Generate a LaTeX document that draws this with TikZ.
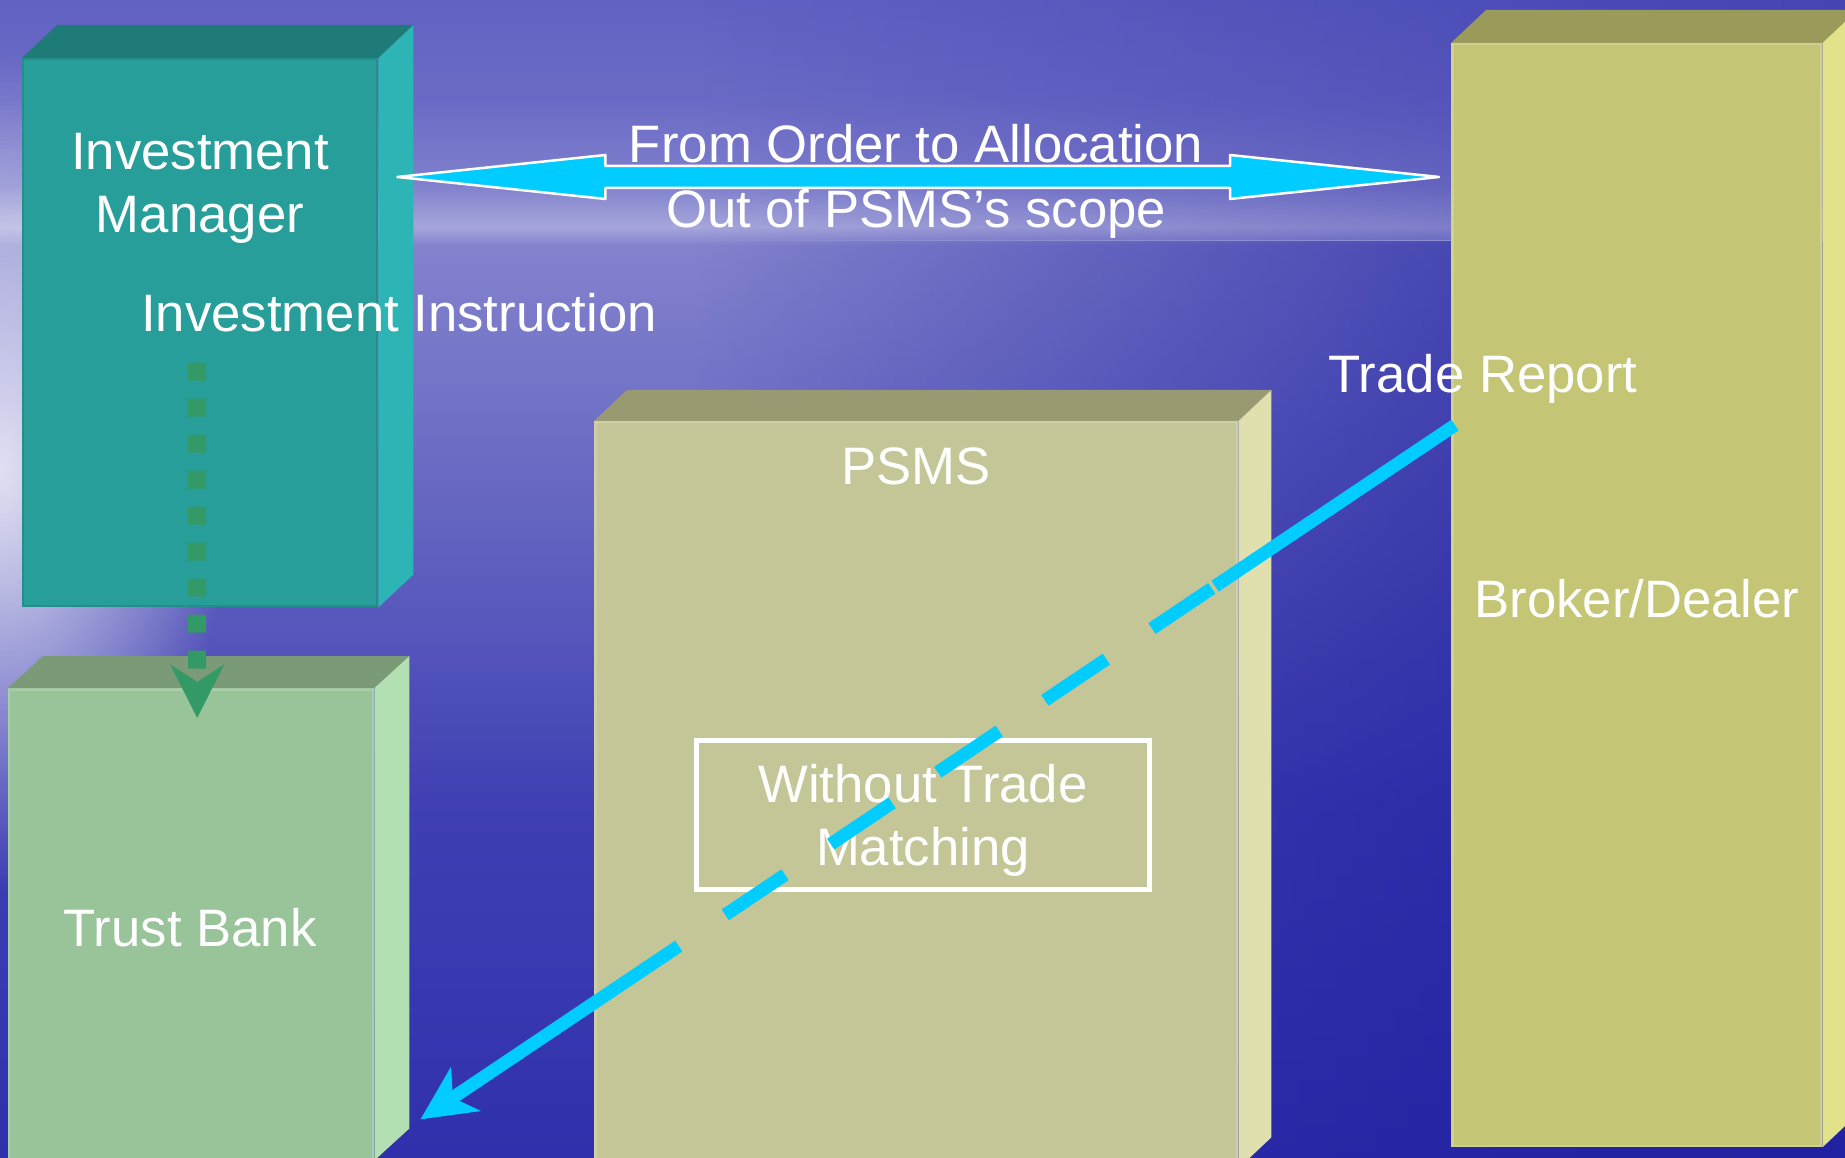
\documentclass[tikz,border=0pt]{standalone}
\usepackage{fontspec}
\setmainfont{Liberation Sans}
\usetikzlibrary{arrows.meta,calc,fadings}

\definecolor{sky0}{HTML}{6262C3}
\definecolor{sky1}{HTML}{6A6AC6}
\definecolor{sky2}{HTML}{8080CD}
\definecolor{horizon}{HTML}{A6A6DB}
\definecolor{sea0}{HTML}{8282CD}
\definecolor{sea1}{HTML}{7272C7}
\definecolor{sea2}{HTML}{5A5ABD}
\definecolor{sea3}{HTML}{4040B4}
\definecolor{sea4}{HTML}{3030AC}
\definecolor{deepblue}{HTML}{2020A0}
\definecolor{imfront}{HTML}{289E9B}
\definecolor{imtop}{HTML}{1F7B78}
\definecolor{imside}{HTML}{2DB4B4}
\definecolor{tbfront}{HTML}{99C49A}
\definecolor{tbtop}{HTML}{7A9A78}
\definecolor{tbside}{HTML}{B2E0B2}
\definecolor{psfront}{HTML}{C5C698}
\definecolor{pstop}{HTML}{999972}
\definecolor{psside}{HTML}{E0E0AE}
\definecolor{bdfront}{HTML}{C4C575}
\definecolor{bdtop}{HTML}{9A9A5A}
\definecolor{bdside}{HTML}{E1E28A}
\definecolor{flowblue}{HTML}{00CCFF}
\definecolor{instrgreen}{HTML}{339966}

\pgfdeclareverticalshading{skysea}{100bp}{color(0bp)=(sea4); color(25bp)=(sea4);
  color(40.5bp)=(sea3); color(49.1bp)=(sea2); color(57.7bp)=(sea1); color(64.4bp)=(sea0);
  color(65.2bp)=(horizon); color(67bp)=(sky2); color(70.7bp)=(sky1); color(75bp)=(sky0);
  color(100bp)=(sky0)}
\tikzfading[name=dark right, left color=transparent!100, right color=transparent!0]
\tikzfading[name=glow blob, inner color=transparent!0, outer color=transparent!100]

\begin{document}
\begin{tikzpicture}[x=0.02cm,y=-0.02cm,
    box/.style={inner sep=0pt,anchor=north west,line width=0.05cm},
    lbl/.style={text=white,inner sep=0pt,font=\fontsize{30}{35.9}\selectfont},
    scopearrow/.style={fill=flowblue,draw=white,line width=0.05cm,line join=round},
    instrarrow/.style={instrgreen,line width=0.36cm,dash pattern=on 0.36cm off 0.36cm,
      -{Stealth[length=1.06cm,width=1.06cm,inset=0.34cm]}},
    reportarrow/.style={flowblue,line width=0.26cm,
      dash pattern=on 5.78cm off 0.08cm on 1.44cm off 1.1cm on 1.48cm off 1.1cm
        on 1.48cm off 1.1cm on 1.48cm off 1.1cm on 1.44cm off 1.12cm on 9cm,
      -{Stealth[length=1.08cm,width=1.04cm,inset=0.3cm]}}]
  \useasboundingbox (0,0) rectangle (1845,1158);
  \clip (0,0) rectangle (1845,1158);

  % sky and sea
  \shade[shading=skysea] (0,0) rectangle (1845,1158);
  \fill[deepblue,opacity=0.9,path fading=dark right] (700,240) rectangle (1845,1158);
  \fill[deepblue,opacity=0.45,path fading=dark right] (700,0) rectangle (1845,240);
  \fill[white,opacity=0.8,path fading=glow blob] (0,470) ellipse [x radius=230,y radius=420];

  % the four boxes
  \node[box,fill=imfront,draw=imfront!90!black,minimum width=7.08cm,minimum height=10.94cm] (im) at (22,58) {};
  \node[box,fill=tbfront,draw=tbfront!85!white,minimum width=7.28cm,minimum height=9.4cm] (tb) at (8,688) {};
  \node[box,fill=psfront,draw=psfront!85!white,minimum width=12.84cm,minimum height=14.9cm] (psms) at (594,421) {};
  \node[box,fill=bdfront,draw=bdfront!80!white,minimum width=7.38cm,minimum height=22.04cm] (bd) at (1451,43) {};
  \foreach \n/\dx/\dy/\tc/\sc in {im/35/33/imtop/imside,tb/35/32/tbtop/tbside,
      psms/33/31/pstop/psside,bd/35/33/bdtop/bdside}{
    \fill[\tc] (\n.north west) -- ++(\dx,-\dy) -- ($(\n.north east)+(\dx,-\dy)$) -- (\n.north east) -- cycle;
    \fill[\sc] (\n.north east) -- ++(\dx,-\dy) -- ($(\n.south east)+(\dx,-\dy)$) -- (\n.south east) -- cycle;
  }

  % labels
  \node[lbl,align=center] (imtxt) at (200,188) {Investment\\Manager};
  \node[lbl,anchor=base] (instr) at (399,332) {Investment Instruction};
  \node[lbl,anchor=base] (psmstxt) at (916,484) {PSMS};
  \node[lbl,anchor=base] (report) at (1483,393) {Trade Report};
  \node[lbl,anchor=base] (bdtxt) at (1637,617) {Broker/Dealer};
  \node[lbl,anchor=base] (tbtxt) at (190,946) {Trust Bank};
  \node[lbl,draw=white,line width=0.1cm,align=center,text depth=0pt,minimum width=9.06cm,minimum height=3cm]
    (match) at (923,815) {Without Trade\\Matching};

  % order to allocation
  \coordinate (scopeL) at ($(im.north east)+(19,119)$);
  \coordinate (scopeR) at ($(bd.north west)+(-12,134)$);
  \filldraw[scopearrow] (scopeL) -- ++(208,-22) -- ++(0,11) -- ($(scopeR)+(-209,-11)$) -- ++(0,-11)
    -- (scopeR) -- ++(-209,22) -- ++(0,-11) -- ($(scopeL)+(208,11)$) -- ++(0,11) -- cycle;
  \node[lbl,anchor=base] (order) at (916,163) {From Order to Allocation};
  \node[lbl,anchor=base] (outscope) at (916,228) {Out of PSMS’s scope};

  % flows
  \draw[instrarrow] ($(im.center)+(-3,30)$) -- ($(tb.north)+(6,30)$);
  \draw[reportarrow] ($(bd.west)+(4,-170)$) -- ($(tb.south east)+(46,-41)$);
\end{tikzpicture}
\end{document}
